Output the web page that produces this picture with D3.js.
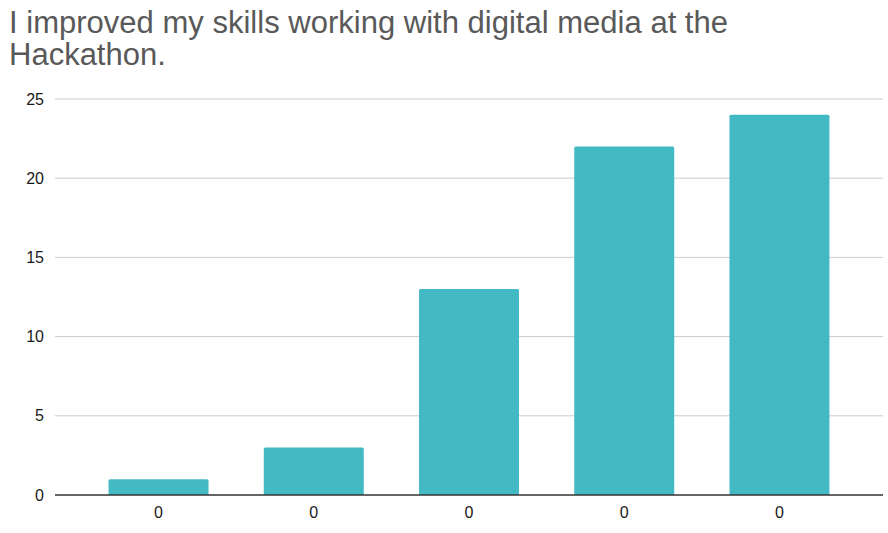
<!DOCTYPE html>
<html>
<head>
<meta charset="utf-8">
<script src="https://cdn.jsdelivr.net/npm/d3@7"></script>
<style>
  html, body { margin: 0; padding: 0; background: #fff; }
  svg { display: block; }
</style>
</head>
<body>
<svg id="chart" width="888" height="533"></svg>
<script>
// Survey responses per answer option
const categories = ["a", "b", "c", "d", "e"];
const categoryLabels = ["0", "0", "0", "0", "0"];
const counts = [1, 3, 13, 22, 24];
const yTicks = [0, 5, 10, 15, 20, 25];
const titleLines = ["I improved my skills working with digital media at the", "Hackathon."];

const svg = d3.select("#chart");
const W = 888, H = 533;
const margin = { left: 55, right: 5, top: 99, bottom: 38 };
const FONT = "'Liberation Sans', Arial, sans-serif";

svg.append("rect").attr("width", W).attr("height", H).attr("fill", "#fff");

// Title
const title = svg.append("text")
  .attr("x", 9)
  .attr("y", 33)
  .attr("font-family", FONT)
  .attr("font-size", 31)
  .attr("fill", "#595959");
titleLines.forEach((t, i) => {
  const s = title.append("tspan").attr("x", 9).attr("dy", i === 0 ? 0 : 32).text(t);
  if (i === 0) s.attr("textLength", 719).attr("lengthAdjust", "spacingAndGlyphs");
});

const x = d3.scaleBand()
  .domain(categories)
  .range([margin.left, W - margin.right])
  .paddingInner(0.356)
  .paddingOuter(0.345);

const y = d3.scaleLinear()
  .domain([0, 25])
  .range([H - margin.bottom, margin.top]);

// Gridlines
svg.append("g")
  .selectAll("line")
  .data(yTicks.filter(d => d !== 0))
  .join("line")
  .attr("x1", margin.left)
  .attr("x2", W - margin.right)
  .attr("y1", d => y(d))
  .attr("y2", d => y(d))
  .attr("stroke", "#cccccc")
  .attr("stroke-width", 1);

// Y axis labels
const yAxis = svg.append("g")
  .attr("transform", `translate(${margin.left},0)`)
  .call(d3.axisLeft(y).tickValues(yTicks).tickSize(0).tickPadding(11));
yAxis.select(".domain").remove();
yAxis.selectAll("text")
  .attr("font-family", FONT)
  .attr("font-size", 16)
  .attr("fill", "#1a1a1a");

// Bars
svg.append("g")
  .selectAll("rect")
  .data(counts)
  .join("rect")
  .attr("x", (d, i) => x(categories[i]))
  .attr("width", x.bandwidth())
  .attr("y", d => y(d))
  .attr("height", d => y(0) - y(d))
  .attr("rx", 1.5)
  .attr("fill", "#43b9c3");

// X axis
const xAxis = svg.append("g")
  .attr("transform", `translate(0,${y(0)})`)
  .call(d3.axisBottom(x).tickSize(0).tickPadding(12)
    .tickFormat((d, i) => categoryLabels[i]));
xAxis.select(".domain")
  .attr("stroke", "#333")
  .attr("stroke-width", 1.5)
  .attr("d", `M${margin.left},0H${W - margin.right}`);
xAxis.selectAll("text")
  .attr("font-family", FONT)
  .attr("font-size", 16)
  .attr("fill", "#1a1a1a");
</script>
</body>
</html>
